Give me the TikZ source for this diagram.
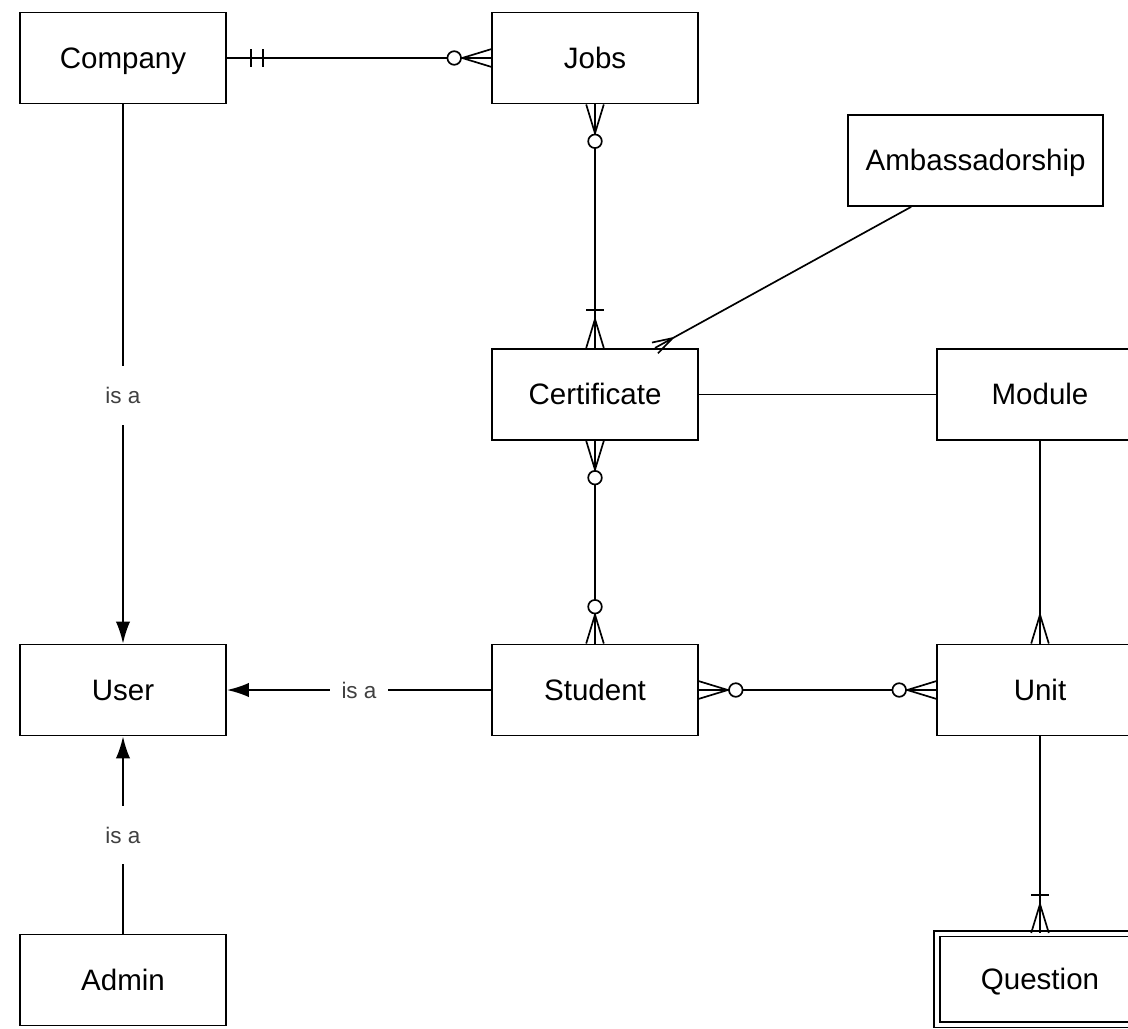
\documentclass[tikz,border=0pt]{standalone}
\usepackage{fontspec}
\setmainfont{Liberation Sans}
\usetikzlibrary{arrows.meta}
\tikzset{
  entity/.style={draw,line width=1.4pt,minimum width=5.15cm,minimum height=2.275cm,
    text height=15pt,text depth=0pt,font=\fontsize{21}{25}\selectfont},
  rel/.style={line width=1.2pt},
  isa/.style={rel,-{Latex[length=0.55cm,width=0.36cm]}},
  lbl/.style={fill=white,text=black!75,inner xsep=8pt,inner ysep=15pt,
    font=\fontsize{16}{19}\selectfont},
  pics/crow/.style={code={\draw[rel] (-0.72,0) -- (0,0.22) (-0.72,0) -- (0,-0.22);}},
  pics/ring/.style={code={\draw[rel,fill=white] (-0.92,0) circle (0.17);}},
  pics/bar/.style={code={\draw[rel] (#1,0.22) -- (#1,-0.22);}},
  pics/bar/.default=-0.95,
}
\begin{document}
\begin{tikzpicture}
\useasboundingbox (0,0) rectangle (28.2,-25.725);
% entities
\node[entity] (company) at (3.075,-1.45) {Company};
\node[entity] (jobs) at (14.875,-1.45) {Jobs};
\node[entity,minimum width=6.375cm] (amb) at (24.39,-4.01) {Ambassadorship};
\node[entity] (cert) at (14.875,-9.86) {Certificate};
\node[entity] (module) at (26,-9.86) {Module};
\node[entity] (user) at (3.075,-17.25) {User};
\node[entity] (student) at (14.875,-17.25) {Student};
\node[entity] (unit) at (26,-17.25) {Unit};
\node[entity] (admin) at (3.075,-24.5) {Admin};
\node[entity,double,double distance=3pt,line width=1.1pt] (question) at (26,-24.48) {Question};
% relationships
\foreach \a/\b in {company/jobs,jobs/cert,cert/student,cert/module,module/unit,student/unit,unit/question}
\draw[rel] (\a)--(\b);
\coordinate (ambS) at ([xshift=1.6cm]amb.south west);
\coordinate (ambE) at ([xshift=-1.1cm]cert.north east);
\draw[rel] (ambS)--(ambE);
\foreach \f/\p in {company/0.54,student/0.5,admin/0.5}
\draw[isa] (\f)-- node[lbl,pos=\p]{is a} (user);
% cardinality marks
\foreach \e/\r in {jobs.west/0,jobs.south/90,cert.south/90,student.north/-90,student.east/180,unit.west/0}
{\pic[rotate=\r] at (\e) {crow}; \pic[rotate=\r] at (\e) {ring};}
\foreach \e in {cert.north,question.north}
{\pic[rotate=-90] at (\e) {crow}; \pic[rotate=-90] at (\e) {bar};}
\pic[rotate=-90] at (unit.north) {crow};
\pic[rotate=209,scale=0.7] at (ambE) {crow};
\pic[rotate=180] at (company.east) {bar=-0.6};
\pic[rotate=180] at (company.east) {bar=-0.9};
\end{tikzpicture}
\end{document}
